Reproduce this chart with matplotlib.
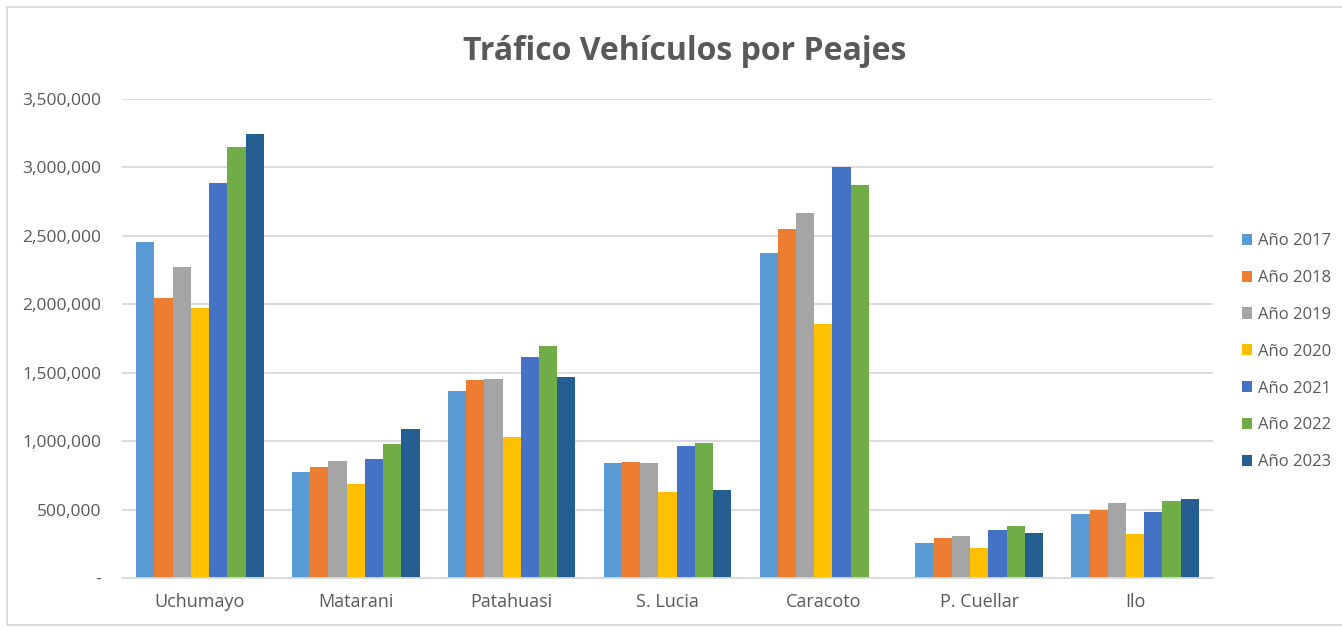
import numpy as np
import matplotlib.pyplot as plt
from matplotlib.patches import Rectangle
from matplotlib.ticker import FuncFormatter

# Data
peajes = ["Uchumayo", "Matarani", "Patahuasi", "S. Lucia", "Caracoto", "P. Cuellar", "Ilo"]
anios = ["Año 2017", "Año 2018", "Año 2019", "Año 2020", "Año 2021", "Año 2022", "Año 2023"]

v2017 = [2453000, 777000, 1370000, 841000, 2378000, 259000, 471000]
v2018 = [2045000, 808000, 1446000, 849000, 2549000, 293000, 500000]
v2019 = [2270000, 852000, 1456000, 841000, 2666000, 305000, 549000]
v2020 = [1970000, 687000, 1029000, 627000, 1858000, 222000, 320000]
v2021 = [2890000, 869000, 1614000, 963000, 3000000, 349000, 481000]
v2022 = [3153000, 979000, 1695000, 983000, 2871000, 378000, 563000]
v2023 = [3243000, 1088000, 1471000, 641000, 0, 329000, 574000]

series = [v2017, v2018, v2019, v2020, v2021, v2022, v2023]
colores = ["#5B9BD5", "#ED7D31", "#A5A5A5", "#FFC000", "#4472C4", "#70AD47", "#255E91"]

plt.rcParams["font.family"] = ["Open Sans", "DejaVu Sans"]

fig = plt.figure(figsize=(13.42, 6.28), dpi=100)
ax = fig.add_axes([0.0909, 0.0796, 0.8130, 0.7627])

x = np.arange(len(peajes))
w = 0.117
for i, (vals, c, lab) in enumerate(zip(series, colores, anios)):
    ax.bar(x + (i - 3) * w, vals, width=w, color=c, label=lab, zorder=2)

ax.set_xlim(-0.5, len(peajes) - 0.5)
ax.set_ylim(0, 3500000)
ax.set_yticks(np.arange(0, 3500001, 500000))
ax.yaxis.set_major_formatter(FuncFormatter(lambda v, p: "-" if v == 0 else f"{int(v):,}"))
ax.set_xticks(x)
ax.set_xticklabels(peajes)

ax.grid(axis="y", color="#D9D9D9", linewidth=1.3, zorder=0)
for s in ["top", "right", "left"]:
    ax.spines[s].set_visible(False)
ax.spines["bottom"].set_color("#D9D9D9")
ax.spines["bottom"].set_linewidth(1.3)
ax.tick_params(axis="both", length=0, colors="#595959")
ax.tick_params(axis="y", pad=15, labelsize=12.5)
ax.tick_params(axis="x", pad=11, labelsize=13)

fig.text(0.51, 1 - 52 / 628, "Tráfico Vehículos por Peajes", ha="center", va="center",
         fontsize=23, fontweight="bold", color="#595959")

fig.legend(loc="center left", bbox_to_anchor=(0.914, 0.44), frameon=False,
           handlelength=0.65, handleheight=0.65, handletextpad=0.35,
           labelspacing=1.25, fontsize=12, labelcolor="#595959")

# light border around the chart
fig.patches.append(Rectangle((7 / 1342, 0.005), 1.2, 1 - 7 / 628 - 0.005,
                             transform=fig.transFigure, fill=False,
                             edgecolor="#D9D9D9", linewidth=1.3))

fig.savefig("out.png", dpi=100)
